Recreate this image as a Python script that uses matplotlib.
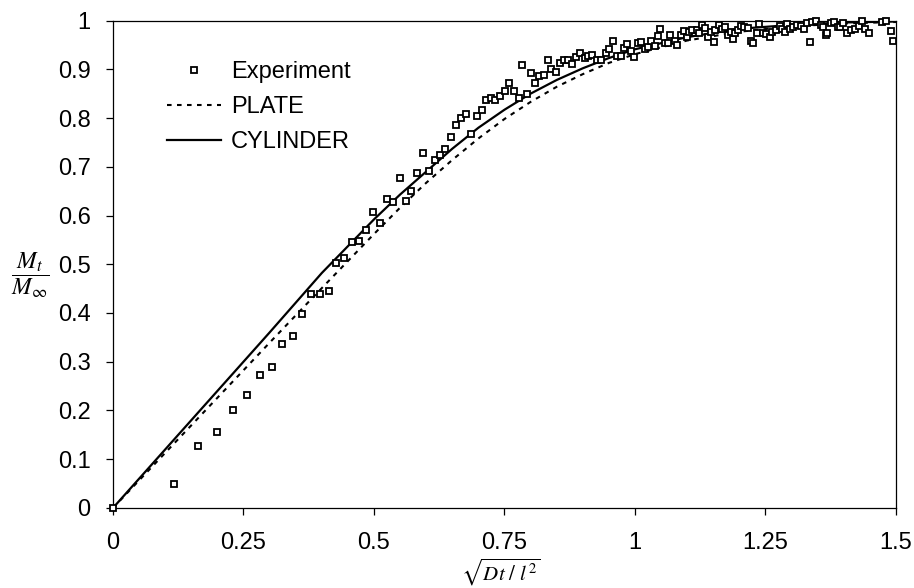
import matplotlib
matplotlib.use("Agg")
import matplotlib.pyplot as plt

plt.rcParams['font.family'] = ['Liberation Sans', 'DejaVu Sans']
plt.rcParams['mathtext.fontset'] = 'stix'

exp_x = [0, 0.116, 0.163, 0.200, 0.229, 0.257, 0.282, 0.304, 0.324, 0.344,
         0.363, 0.379, 0.397, 0.414, 0.427, 0.443, 0.457, 0.472, 0.485, 0.499,
         0.511, 0.524, 0.536, 0.549, 0.561, 0.571, 0.583, 0.594, 0.605, 0.616,
         0.626, 0.637, 0.647, 0.657, 0.667, 0.676, 0.686, 0.697, 0.706, 0.715,
         0.724, 0.732, 0.741, 0.751, 0.759, 0.768, 0.777, 0.784, 0.794, 0.800,
         0.809, 0.817, 0.826, 0.833, 0.840, 0.849, 0.856, 0.864, 0.872, 0.879,
         0.887, 0.895, 0.904, 0.910, 0.918, 0.927, 0.934, 0.944, 0.951, 0.957,
         0.966, 0.974, 0.978, 0.985, 0.993, 0.998, 1.006, 1.012, 1.019, 1.025,
         1.031, 1.038, 1.044, 1.048, 1.057, 1.063, 1.068, 1.076, 1.081, 1.088,
         1.093, 1.100, 1.104, 1.110, 1.118, 1.122, 1.128, 1.134, 1.139, 1.145,
         1.151, 1.154, 1.160, 1.166, 1.173, 1.178, 1.183, 1.188, 1.192, 1.197,
         1.204, 1.208, 1.216, 1.223, 1.227, 1.233, 1.238, 1.245, 1.251, 1.259,
         1.262, 1.270, 1.277, 1.282, 1.287, 1.291, 1.297, 1.303, 1.310, 1.318,
         1.323, 1.329, 1.335, 1.339, 1.347, 1.356, 1.361, 1.365, 1.368, 1.375,
         1.381, 1.388, 1.393, 1.399, 1.407, 1.414, 1.421, 1.429, 1.435, 1.440,
         1.449, 1.473, 1.480, 1.491, 1.495]
exp_y = [0, 0.049, 0.127, 0.156, 0.200, 0.231, 0.273, 0.289, 0.336, 0.352,
         0.398, 0.438, 0.439, 0.446, 0.503, 0.513, 0.546, 0.548, 0.570, 0.608,
         0.585, 0.633, 0.628, 0.676, 0.630, 0.651, 0.688, 0.729, 0.691, 0.714,
         0.725, 0.737, 0.762, 0.786, 0.801, 0.808, 0.768, 0.805, 0.816, 0.837,
         0.842, 0.837, 0.846, 0.856, 0.871, 0.855, 0.842, 0.909, 0.849, 0.893,
         0.872, 0.886, 0.888, 0.918, 0.900, 0.895, 0.912, 0.919, 0.919, 0.911,
         0.926, 0.934, 0.924, 0.927, 0.929, 0.918, 0.918, 0.934, 0.941, 0.958,
         0.927, 0.927, 0.943, 0.952, 0.938, 0.926, 0.954, 0.956, 0.941, 0.946,
         0.958, 0.948, 0.968, 0.982, 0.954, 0.953, 0.970, 0.958, 0.949, 0.970,
         0.979, 0.967, 0.976, 0.981, 0.981, 0.974, 0.990, 0.985, 0.966, 0.976,
         0.956, 0.981, 0.990, 0.982, 0.986, 0.970, 0.976, 0.963, 0.974, 0.981,
         0.989, 0.987, 0.985, 0.958, 0.953, 0.974, 0.993, 0.975, 0.972, 0.967,
         0.976, 0.981, 0.989, 0.983, 0.976, 0.993, 0.983, 0.987, 0.991, 0.989,
         0.982, 0.994, 0.956, 0.997, 1.000, 0.991, 0.986, 0.970, 0.975, 0.994,
         0.996, 0.987, 0.986, 0.994, 0.974, 0.981, 0.982, 0.989, 1.000, 0.982,
         0.975, 0.997, 0.998, 0.979, 0.958]

# PLATE 곡선
plate_x = [0, 0.1, 0.2, 0.3, 0.4, 0.5, 0.55, 0.6, 0.65, 0.7, 0.75, 0.8, 0.85,
           0.9, 0.95, 1.0, 1.1, 1.2, 1.3, 1.4, 1.5]
plate_y = [0, 0.113, 0.226, 0.339, 0.451, 0.562, 0.616, 0.667, 0.714, 0.758,
           0.798, 0.833, 0.864, 0.890, 0.913, 0.931, 0.959, 0.977, 0.988, 0.994,
           0.997]

# CYLINDER 곡선
cyl_x = [0, 0.1, 0.2, 0.3, 0.4, 0.45, 0.5, 0.55, 0.6, 0.65, 0.7, 0.75, 0.8,
         0.85, 0.9, 0.95, 1.0, 1.1, 1.2, 1.3, 1.4, 1.5]
cyl_y = [0, 0.120, 0.240, 0.360, 0.482, 0.537, 0.592, 0.643, 0.690, 0.737,
         0.780, 0.817, 0.850, 0.878, 0.902, 0.923, 0.941, 0.966, 0.983, 0.991,
         0.996, 0.998]

xticks = [0, 0.25, 0.5, 0.75, 1, 1.25, 1.5]
xlabels = ['0', '0.25', '0.5', '0.75', '1', '1.25', '1.5']
yticks = [0, 0.1, 0.2, 0.3, 0.4, 0.5, 0.6, 0.7, 0.8, 0.9, 1]
ylabels = ['0', '0.1', '0.2', '0.3', '0.4', '0.5', '0.6', '0.7', '0.8', '0.9', '1']

fig = plt.figure(figsize=(9.14, 5.88), dpi=100)
ax = fig.add_axes([0.1236, 0.1361, 0.8567, 0.8290])

ax.plot(exp_x, exp_y, 's', ms=4.6, mfc='white', mec='black', mew=1.3,
        label='Experiment', clip_on=False, zorder=3)
ax.plot(plate_x, plate_y, color='black', lw=1.5, dashes=(2.2, 2.6),
        label='PLATE')
ax.plot(cyl_x, cyl_y, color='black', lw=1.6, label='CYLINDER')

ax.set_xlim(0, 1.5)
ax.set_ylim(0, 1)
ax.set_xticks(xticks)
ax.set_xticklabels(xlabels)
ax.set_yticks(yticks)
ax.set_yticklabels(ylabels)
ax.tick_params(axis='x', direction='out', length=5, width=0.9, pad=12,
               labelsize=17)
ax.tick_params(axis='y', direction='out', length=5, width=0.9, pad=11,
               labelsize=17)
for s in ax.spines.values():
    s.set_linewidth(0.9)

leg = ax.legend(loc='upper left', bbox_to_anchor=(0.069, 0.917),
                frameon=False, fontsize=17, handlelength=2.3,
                handletextpad=0.4, labelspacing=0.55, borderpad=0,
                borderaxespad=0, numpoints=1)

# 축 이름 (분수 / 루트)
fig.text(30 / 914, 1 - 275 / 588, r'$\dfrac{M_t}{M_\infty}$', fontsize=17,
         ha='center', va='center')
fig.text(501 / 914, 1 - 572 / 588, r'$\sqrt{Dt\ /\ l^2}$', fontsize=15,
         ha='center', va='center')

fig.savefig('out.png', dpi=100)
plt.close(fig)
